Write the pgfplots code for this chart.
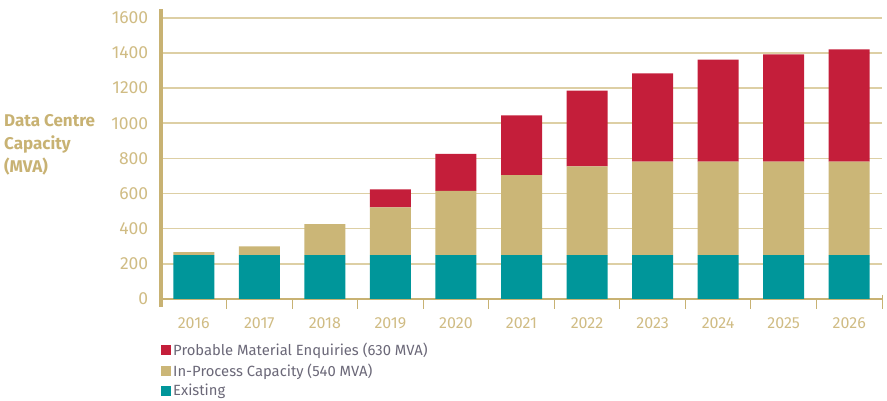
\documentclass[border=0pt]{standalone}
\usepackage{pgfplots}
\pgfplotsset{compat=1.18}
\usepackage{fontspec}
\setmainfont{Fira Sans}
\definecolor{cred}{HTML}{C41E3A}
\definecolor{cgold}{HTML}{CBB677}
\definecolor{cteal}{HTML}{00969A}
\definecolor{axgold}{HTML}{C8B273}
\definecolor{txtgold}{HTML}{D0BC84}
\definecolor{gridgold}{HTML}{DDCFA4}
\definecolor{leggray}{HTML}{6B6878}
\pgfplotstableread{
x existing inprocess probable
0 250 17 0
1 250 50 0
2 250 176 0
3 250 271 102
4 250 365 211
5 250 455 340
6 250 505 430
7 250 532 502
8 250 532 580
9 250 532 610
10 250 532 638
}\datatab
\begin{document}
\begin{tikzpicture}[x=1pt,y=1pt]
\path[use as bounding box] (0,0) rectangle (887,401);
\begin{axis}[
  at={(161pt,102pt)}, anchor=south west,
  scale only axis, width=721pt, height=290pt,
  xmin=-0.5, xmax=10.5, ymin=0, ymax=1650,
  clip=false,
  ybar stacked, bar width=41pt,
  axis x line*=bottom, axis y line*=left,
  x axis line style={axgold, line width=2.5pt},
  y axis line style={axgold, line width=4pt},
  xtick={0,...,10},
  xticklabels={2016,2017,2018,2019,2020,2021,2022,2023,2024,2025,2026},
  minor xtick={0.5,1.5,...,9.5},
  major x tick style={draw=none},
  minor x tick style={draw=axgold, line width=1pt},
  minor tick length=10pt,
  tick align=outside,
  ytick={0,200,...,1600},
  major y tick style={draw=none},
  ymajorgrids,
  grid style={gridgold, line width=1.5pt},
  yticklabel style={font=\fontsize{17.5}{17.5}\selectfont, text=txtgold, xshift=-5pt},
  xticklabel style={font=\fontsize{16}{16}\selectfont, text=txtgold, yshift=-11pt},
  /pgf/number format/assume math mode=true,
  /pgf/number format/1000 sep={},
  legend style={at={(0,0)}, anchor=north west, xshift=0pt, yshift=-42pt,
    draw=none, fill=none, inner sep=0pt,
    font=\fontsize{14.8}{14.8}\selectfont, text=leggray,
    row sep=2.5pt, cells={anchor=west}},
  legend image code/.code={\fill[#1] (0pt,-5pt) rectangle (10pt,5pt);},
  reverse legend,
]
\addplot[fill=cteal, draw=none] table[x=x, y=existing] {\datatab};
\addplot[fill=cgold, draw=none] table[x=x, y=inprocess] {\datatab};
\addplot[fill=cred, draw=none] table[x=x, y=probable] {\datatab};
\legend{Existing, In-Process Capacity (540 MVA), Probable Material Enquiries (630 MVA)}
\draw[axgold, line width=4pt] (axis cs:-0.5,0) -- ++(0pt,-8pt);
\draw[axgold, line width=1pt] (axis cs:10.5,0) ++(0pt,4pt) -- ++(0pt,-14pt);
\end{axis}
\node[anchor=north west, align=left, inner sep=0pt, text=axgold,
  font=\fontsize{17}{23}\selectfont\bfseries] at (4,287) {Data Centre\\Capacity\\(MVA)};
\end{tikzpicture}
\end{document}
